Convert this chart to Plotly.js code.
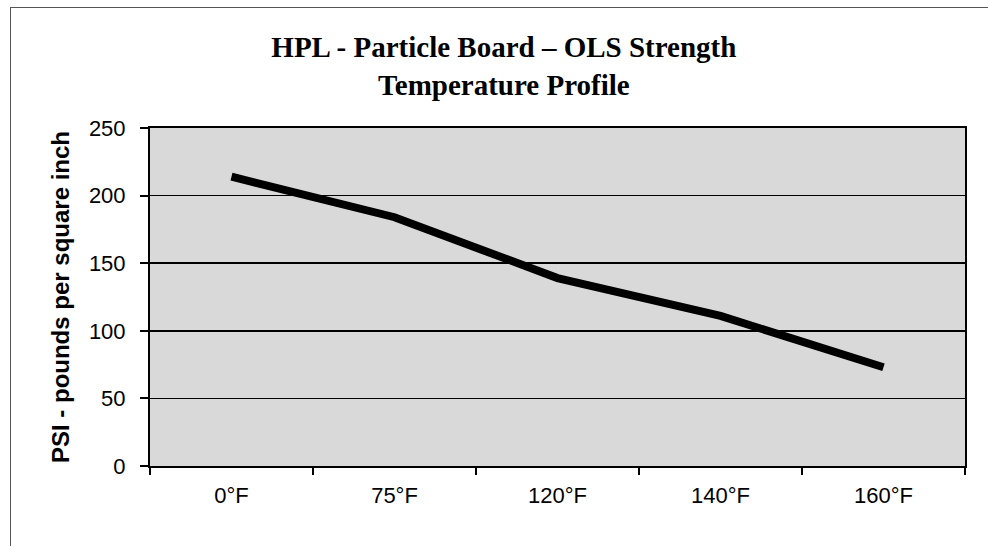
<!DOCTYPE html>
<html>
<head>
<meta charset="utf-8">
<script src="https://cdn.plot.ly/plotly-3.0.1.min.js"></script>
<style>
  html, body { margin: 0; padding: 0; background: #fff; }
  #wrap { position: relative; width: 988px; height: 546px; overflow: hidden; }
  #chart { width: 988px; height: 546px; }
  #frame { position: absolute; left: 10px; top: 7px; width: 1200px; height: 800px;
           border-left: 1px solid #555; border-top: 1px solid #555; pointer-events: none; }
</style>
</head>
<body>
<div id="wrap">
  <div id="chart"></div>
  <div id="frame"></div>
</div>
<script>
const categories = ["0°F", "75°F", "120°F", "140°F", "160°F"];
const psiValues = [214, 184, 139, 111, 73];
const yTicks = [0, 50, 100, 150, 200, 250];

const trace = {
  type: "scatter",
  mode: "lines",
  x: categories,
  y: psiValues,
  line: { color: "#000000", width: 8 },
  hoverinfo: "skip"
};

const layout = {
  width: 988,
  height: 546,
  margin: { l: 150, r: 23, t: 128, b: 80 },
  paper_bgcolor: "rgba(0,0,0,0)",
  plot_bgcolor: "#d9d9d9",
  showlegend: false,
  title: {
    text: "<b>HPL - Particle Board – OLS Strength<br>Temperature Profile</b>",
    font: { family: "Liberation Serif, Times New Roman, serif", size: 29, color: "#000" },
    x: 0.51, xref: "container", xanchor: "center",
    y: 1 - 57 / 546, yref: "container", yanchor: "middle"
  },
  xaxis: {
    type: "category",
    range: [-0.5, categories.length - 0.5],
    tickson: "boundaries",
    ticks: "outside",
    ticklen: 7,
    tickwidth: 2,
    tickcolor: "#000",
    showline: true,
    linecolor: "#000",
    linewidth: 2,
    mirror: true,
    showgrid: false,
    ticklabelstandoff: 9,
    tickfont: { family: "Liberation Sans, Arial, sans-serif", size: 22, color: "#000" }
  },
  yaxis: {
    range: [0, 250],
    tickvals: yTicks,
    ticktext: yTicks.map(String),
    ticks: "outside",
    ticklen: 8,
    tickwidth: 2,
    tickcolor: "#000",
    showline: true,
    linecolor: "#000",
    linewidth: 2,
    mirror: true,
    showgrid: true,
    gridcolor: "#000",
    gridwidth: 1.5,
    zeroline: false,
    ticklabelstandoff: 10,
    tickfont: { family: "Liberation Sans, Arial, sans-serif", size: 22, color: "#000" },
    title: {
      text: "<b>PSI - pounds per square inch</b>",
      font: { family: "Liberation Sans, Arial, sans-serif", size: 24, color: "#000" },
      standoff: 12
    }
  }
};

Plotly.newPlot("chart", [trace], layout, { staticPlot: true, displayModeBar: false });
</script>
</body>
</html>
